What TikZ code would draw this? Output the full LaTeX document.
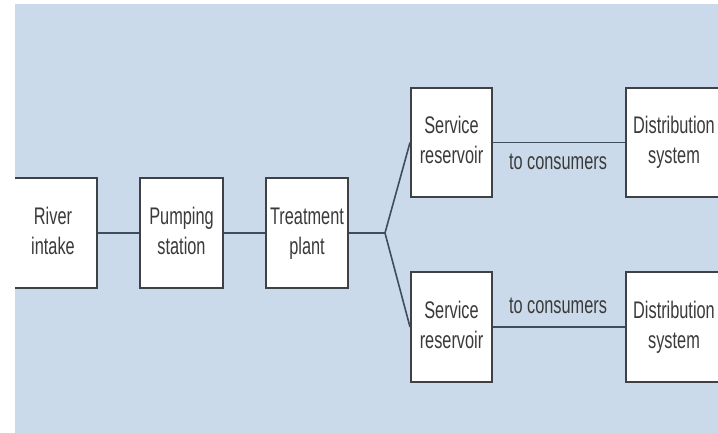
\documentclass[tikz,border=0pt]{standalone}
\usepackage{fontspec}
\setmainfont{Liberation Sans}
\definecolor{bgc}{HTML}{CBDAEA}
\definecolor{boxc}{HTML}{3E4247}
\definecolor{linec}{HTML}{3D4D5E}
\definecolor{txtc}{HTML}{3A3A3A}
\newcommand{\lbl}[1]{\scalebox{0.68}[1]{\begin{tabular}{@{}c@{}}#1\end{tabular}}}
\tikzset{
  blockbox/.style={draw=boxc, line width=2pt, fill=white, inner sep=0pt,
    minimum height=110pt, text=txtc, font=\fontsize{24}{30}\selectfont},
  conn/.style={draw=linec, line width=1.6pt},
  lbltext/.style={text=txtc, inner sep=0pt, font=\fontsize{24}{30}\selectfont}
}
\begin{document}
\begin{tikzpicture}[x=1pt,y=-1pt]
\useasboundingbox (0,0) rectangle (718,433);
\fill[white] (0,0) rectangle (718,433);
\clip (15,4) rectangle (718,433);
\fill[bgc] (15,4) rectangle (718,433);
\node[blockbox, minimum width=88pt] (river) at (53,233) {\lbl{River\\intake}};
\node[blockbox, minimum width=83pt] (pump) at (181.5,233) {\lbl{Pumping\\station}};
\node[blockbox, minimum width=82pt] (treat) at (307,233) {\lbl{Treatment\\plant}};
\node[blockbox, minimum width=81pt, minimum height=109pt] (sr1) at (451.5,142.5) {\lbl{Service\\reservoir}};
\node[blockbox, minimum width=81pt] (sr2) at (451.5,327) {\lbl{Service\\reservoir}};
\node[blockbox, minimum width=96pt, minimum height=109pt] (ds1) at (674,142.5) {\lbl{Distribution\\system}};
\node[blockbox, minimum width=96pt] (ds2) at (674,327) {\lbl{Distribution\\system}};
\coordinate (br) at (385,233);
\draw[conn] (river) -- (pump);
\draw[conn] (pump) -- (treat);
\draw[conn] (treat.east) -- (br);
\draw[conn] (br) -- (sr1.west);
\draw[conn] (br) -- (sr2.west);
\draw[conn] (sr1) -- (ds1);
\draw[conn] (sr2) -- (ds2);
\node[lbltext] (c1) at (558,164) {\lbl{to consumers}};
\node[lbltext] (c2) at (558,307) {\lbl{to consumers}};
\end{tikzpicture}
\end{document}
